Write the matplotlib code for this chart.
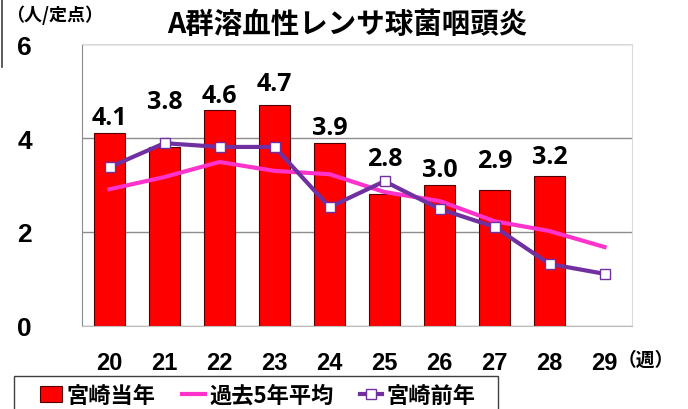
import matplotlib
matplotlib.use("Agg")
import matplotlib.pyplot as plt
from matplotlib.font_manager import FontProperties
from matplotlib.lines import Line2D
from matplotlib.patches import Rectangle
import numpy as np

plt.rcParams["font.family"] = ["Noto Sans CJK JP", "DejaVu Sans"]

# data
weeks = ["20", "21", "22", "23", "24", "25", "26", "27", "28", "29"]
this_year = [4.1, 3.8, 4.6, 4.7, 3.9, 2.8, 3.0, 2.9, 3.2]
avg_5yr = [2.91, 3.17, 3.49, 3.30, 3.23, 2.85, 2.66, 2.23, 2.02, 1.68]
last_year = [3.38, 3.89, 3.81, 3.81, 2.53, 3.08, 2.49, 2.11, 1.32, 1.11]

# how far each value label's centre sits above its bar (points)
label_lift = [11.5, 33, 10, 15.5, 11, 26, 11, 21, 14]

RED = "#FF0000"
PINK = "#FF33CC"
PURPLE = "#7030A0"
W, H = 688, 410

fig = plt.figure(figsize=(W / 100, H / 100), dpi=100)
ax = fig.add_axes([82 / W, 1 - 327 / H, 550 / W, 282 / H])

x = np.arange(len(weeks))
bars = ax.bar(x[:len(this_year)], this_year, width=0.58, color=RED,
              edgecolor="#500000", linewidth=0.8, zorder=2)
avg_line, = ax.plot(x, avg_5yr, color=PINK, linewidth=3, zorder=3)
prev_line, = ax.plot(x, last_year, color=PURPLE, linewidth=3, marker="s", markersize=7,
                     markerfacecolor="white", markeredgecolor=PURPLE,
                     markeredgewidth=1, zorder=4)

for xi, v, lift in zip(x, this_year, label_lift):
    ax.annotate(f"{v:.1f}", (xi, v), xytext=(0, lift), textcoords="offset points",
                ha="center", va="center", fontsize=18, fontweight="bold",
                family=["Open Sans", "DejaVu Sans"], zorder=5)

ax.set_xlim(-0.5, len(weeks) - 0.5)
ax.set_ylim(0, 6)
ax.set_yticks([0, 2, 4, 6])
ax.set_xticks(x)
ax.set_xticklabels(weeks)
ax.yaxis.grid(True, color="#8c8c8c", linewidth=1, zorder=0)
ax.set_axisbelow(True)
ax.tick_params(axis="both", length=0)
ax.tick_params(axis="y", pad=36)
ax.tick_params(axis="x", pad=18)
xfont = FontProperties(family="Liberation Sans", weight="bold", size=17)
yfont = FontProperties(family="Liberation Sans", weight="bold", size=19)
plt.setp(ax.get_xticklabels(), fontproperties=xfont)
plt.setp(ax.get_yticklabels(), fontproperties=yfont)
for side in ("top", "right"):
    ax.spines[side].set_color("#d9d9d9")
ax.spines["bottom"].set_color("#bfbfbf")
ax.spines["left"].set_color("#8c8c8c")

fig.text(347 / W, 1 - 25 / H, "A群溶血性レンサ球菌咽頭炎", ha="center", va="center",
         fontsize=20.5, fontweight="bold")
fig.text(6 / W, 1 - 15 / H, "（人/定点）", ha="left", va="center",
         fontsize=13, fontweight="bold")
fig.text(618 / W, 1 - 360 / H, "（週）", ha="left", va="center",
         fontsize=13.5, fontweight="bold")

# small rule at the top-left edge
fig.add_artist(Line2D([2 / W, 2 / W], [1, 1 - 68 / H], color="#404040", linewidth=1.2))

# legend box runs off the bottom edge
fig.add_artist(Rectangle((14 / W, -0.05), 484 / W, 0.05 + 33 / H,
                         transform=fig.transFigure, fill=False,
                         edgecolor="#404040", linewidth=1.0))
fig.legend([bars, avg_line, prev_line], ["宮崎当年", "過去5年平均", "宮崎前年"],
           loc="center left", bbox_to_anchor=(40 / W, 1 - 396 / H), ncol=3,
           prop={"size": 16, "weight": "bold"}, frameon=False,
           handlelength=1.0, handleheight=0.7, handletextpad=0.2,
           columnspacing=1.2, borderpad=0, borderaxespad=0)

fig.savefig("out.png", dpi=100)
